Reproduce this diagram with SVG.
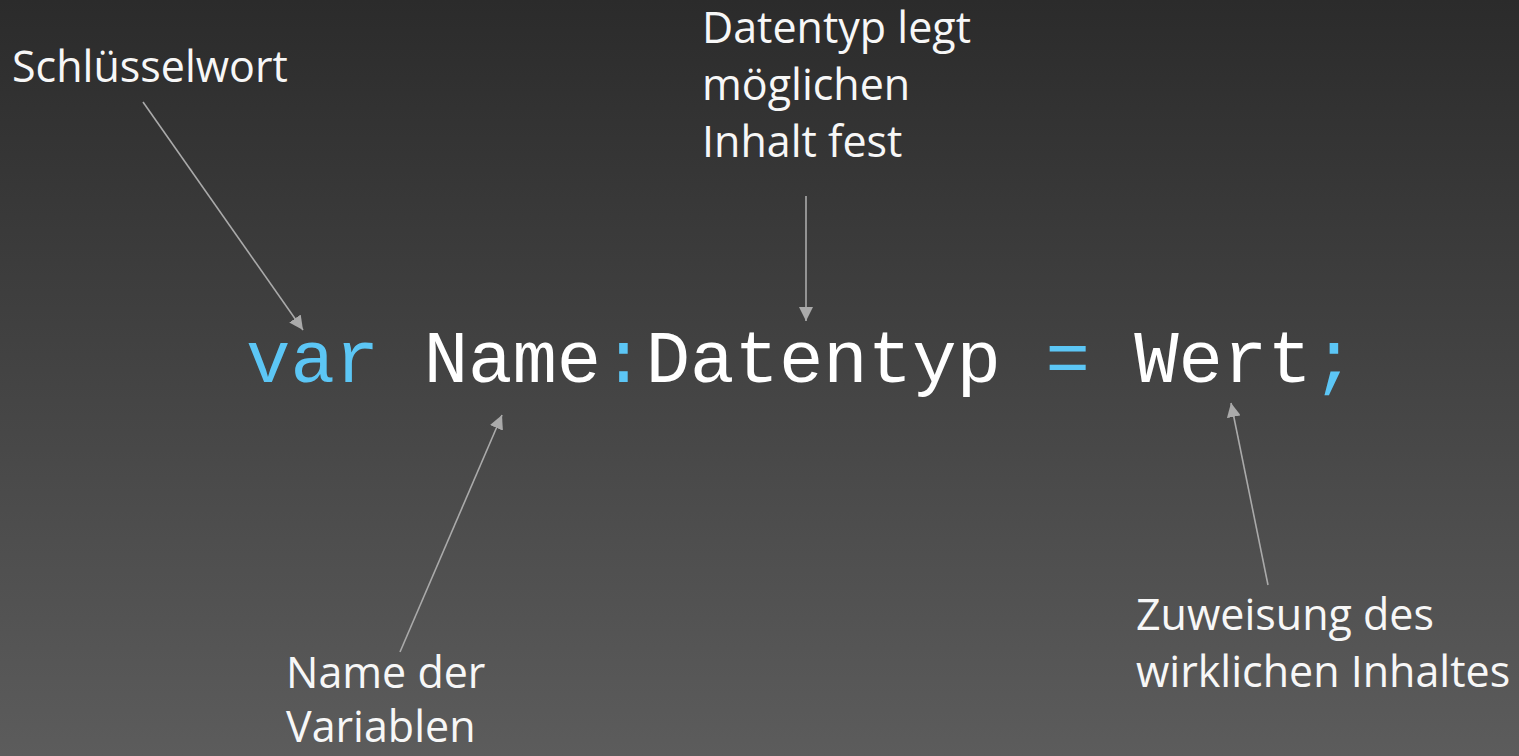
<svg xmlns="http://www.w3.org/2000/svg" width="1519" height="756" viewBox="0 0 1519 756">
  <defs>
    <linearGradient id="bg" x1="0" y1="0" x2="0" y2="1">
      <stop offset="0" stop-color="#2b2b2b"/>
      <stop offset="1" stop-color="#5c5c5c"/>
    </linearGradient>
    <marker id="arr" viewBox="0 0 10 10" refX="10" refY="5" markerWidth="14" markerHeight="14" markerUnits="userSpaceOnUse" orient="auto">
      <path d="M0,0 L10,5 L0,10 Z" fill="#aaaaaa"/>
    </marker>
    <style>
      .lbl { font-family: "Open Sans", "Noto Sans", "Liberation Sans", sans-serif; font-size: 43px; fill: #f7f7f7; }
      .code { font-family: "Liberation Mono", "Courier New", monospace; font-size: 74px; fill: #ffffff; }
      .kw { fill: #5cc6f5; }
      .conn line { stroke: #aaaaaa; stroke-width: 1.6; marker-end: url(#arr); }
    </style>
  </defs>
  <rect x="0" y="0" width="1519" height="756" fill="url(#bg)"/>

  <g id="code">
    <text class="code" x="246" y="382"><tspan class="kw">var</tspan> Name<tspan class="kw">:</tspan>Datentyp <tspan class="kw">=</tspan> Wert<tspan class="kw">;</tspan></text>
  </g>

  <g id="schluesselwort">
    <text class="lbl" x="12" y="82">Schlüsselwort</text>
  </g>

  <g id="datentyp">
    <text class="lbl" x="702" y="43">Datentyp legt</text>
    <text class="lbl" x="702" y="100">möglichen</text>
    <text class="lbl" x="702" y="157">Inhalt fest</text>
  </g>

  <g id="namevar">
    <text class="lbl" x="286" y="688">Name der</text>
    <text class="lbl" x="286" y="742">Variablen</text>
  </g>

  <g id="zuweisung">
    <text class="lbl" x="1136" y="630">Zuweisung des</text>
    <text class="lbl" x="1136" y="687">wirklichen Inhaltes</text>
  </g>

  <g id="connectors" class="conn">
    <line x1="143" y1="102" x2="303" y2="330"/>
    <line x1="806" y1="196" x2="806" y2="321"/>
    <line x1="400" y1="652" x2="502" y2="415"/>
    <line x1="1268" y1="585" x2="1231" y2="403"/>
  </g>
</svg>
